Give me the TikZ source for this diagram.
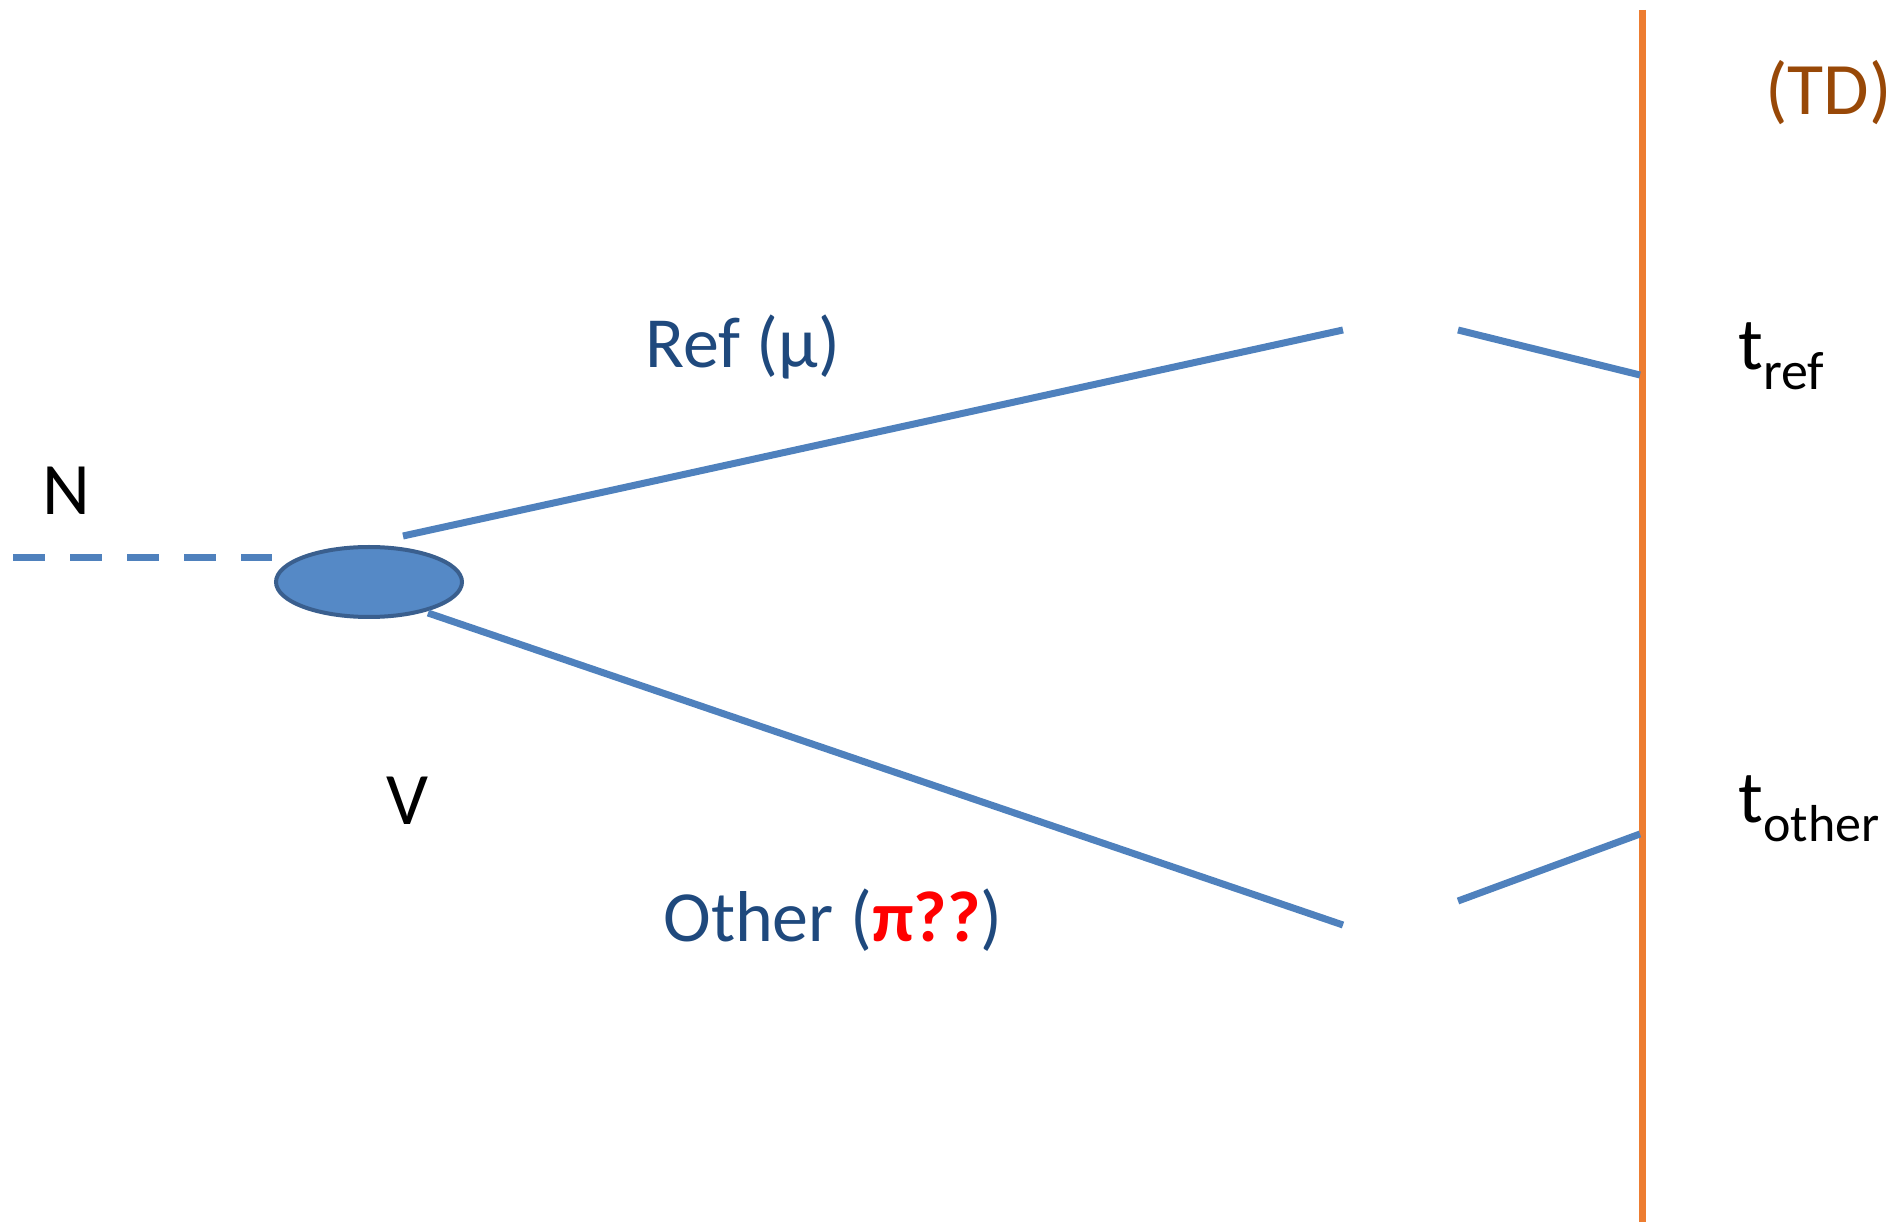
\documentclass[tikz,border=0pt]{standalone}
\usepackage{fontspec}
\setmainfont{Carlito}
\usetikzlibrary{shapes.geometric}
\definecolor{lineblue}{HTML}{4F81BD}
\definecolor{fillblue}{HTML}{5589C6}
\definecolor{edgeblue}{HTML}{3A5F8E}
\definecolor{textblue}{HTML}{1F497D}
\definecolor{tdorange}{HTML}{ED7D31}
\definecolor{tdbrown}{HTML}{984807}
\tikzset{
  track/.style={draw=lineblue, line width=3.5pt},
  beam/.style={draw=lineblue, line width=3.5pt, dash pattern=on 16pt off 12.5pt},
  detector/.style={draw=tdorange, line width=3.5pt},
  lbl/.style={inner sep=0pt, font=\fontsize{37}{44}\selectfont},
  trk/.style={inner sep=0pt, text=textblue},
}
\begin{document}
\begin{tikzpicture}[x=0.5pt,y=-0.5pt]
\useasboundingbox (0,0) rectangle (1892,1224);
% vertex
\node[ellipse, draw=edgeblue, line width=2pt, fill=fillblue, minimum width=93pt, minimum height=35pt, inner sep=0pt] (vtx) at (369,582) {};
% beam
\coordinate (beamstart) at (13,558);
\coordinate (beamend) at (272,558);
\draw[beam] (beamstart) -- (beamend);
% detector
\coordinate (tdtop) at (1642,10);
\coordinate (tdbot) at (1642,1222);
\draw[detector] (tdtop) -- (tdbot);
% reference track
\coordinate (r0) at (403,536);
\coordinate (r1) at (1343,330);
\coordinate (r2) at (1458,330);
\coordinate (r3) at (1640,375);
\draw[track] (r0) -- (r1);
\draw[track] (r2) -- (r3);
% other track
\coordinate (o0) at (428,613);
\coordinate (o1) at (1343,925);
\coordinate (o2) at (1458,901);
\coordinate (o3) at (1640,834);
\draw[track] (o0) -- (o1);
\draw[track] (o2) -- (o3);
% labels
\node[lbl, anchor=base] (N) at (66,515) {N};
\node[lbl, anchor=base] (V) at (407,825) {V};
\node[trk, anchor=base west, font=\fontsize{36}{42}\selectfont] (ref) at (645,368) {Ref (μ)};
\node[trk, anchor=base west, font=\fontsize{36}{42}\selectfont] (other) at (663,942) {Other (\textcolor{red}{\textbf{π??}})};
\node[lbl, anchor=base west, text=tdbrown] (TD) at (1765,115) {(TD)};
\node[lbl, anchor=base west] (tref) at (1738,370) {t\textsubscript{\fontsize{27}{30}\selectfont ref}};
\node[lbl, anchor=base west] (tother) at (1738,823) {t\textsubscript{\fontsize{26}{30}\selectfont other}};
\end{tikzpicture}
\end{document}
